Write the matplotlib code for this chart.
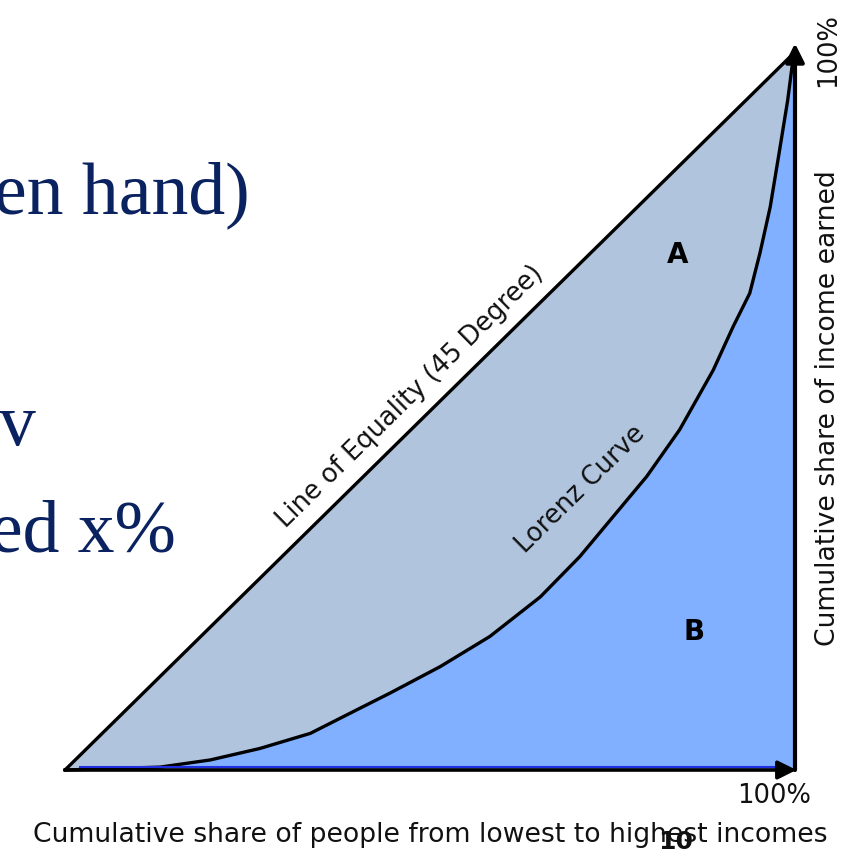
import matplotlib
matplotlib.use("Agg")
import matplotlib.pyplot as plt

# Lorenz curve (percent of people, percent of income)
people = [0, 13.0, 19.9, 26.7, 33.6, 40.4, 44.5, 51.4, 58.2, 65.1, 70.5, 75.1, 79.7,
          84.2, 88.8, 91.5, 93.8, 95.2, 96.6, 97.9, 99.0, 99.6, 100]
income = [0, 0.4, 1.4, 3.0, 5.1, 8.6, 10.7, 14.4, 18.6, 24.1, 29.7, 35.3, 40.9,
          47.4, 55.7, 61.7, 66.4, 72.0, 78.4, 86.4, 93.3, 98.0, 100]
equality = [0, 100]

W, H = 844, 850
fig = plt.figure(figsize=(W / 100, H / 100), dpi=100)
ax = fig.add_axes([0, 0, 1, 1])
ax.set_xlim(-65 / 730 * 100, 779 / 730 * 100)
ax.set_ylim(-80 / 718 * 100, 770 / 718 * 100)
ax.axis("off")

# areas A and B
ax.fill_between(people, people, income, color="#b0c4de", lw=0)
ax.fill_between(people, income, 0, color="#80b0ff", lw=0)

ax.plot(equality, equality, color="black", lw=2.4, solid_capstyle="round")
ax.plot(people, income, color="black", lw=2.4, solid_joinstyle="round")

# axes with arrows
ax.plot([2, 99], [0.35, 0.35], color="#2030e0", lw=1.5)
ax.annotate("", xy=(100.2, 0), xytext=(0, 0),
            arrowprops=dict(arrowstyle="-|>", color="black", lw=2.6, mutation_scale=28,
                            shrinkA=0, shrinkB=0))
ax.annotate("", xy=(100, 101.2), xytext=(100, 0),
            arrowprops=dict(arrowstyle="-|>", color="black", lw=3.0, mutation_scale=28,
                            shrinkA=0, shrinkB=0))


def px(x, y):
    return x / W, 1 - y / H


sans = "DejaVu Sans"
ink = "#111111"
fig.text(*px(410, 397), "Line of Equality (45 Degree)", rotation=44.5, fontsize=18.5,
         family=sans, color=ink, ha="center", va="center", rotation_mode="anchor")
fig.text(*px(581, 489), "Lorenz Curve", rotation=44.5, fontsize=18.5,
         family=sans, color=ink, ha="center", va="center", rotation_mode="anchor")
fig.text(*px(678, 255), "A", fontsize=20, fontweight="bold", family=sans, ha="center", va="center")
fig.text(*px(694, 632), "B", fontsize=20, fontweight="bold", family=sans, ha="center", va="center")
fig.text(*px(774, 796), "100%", fontsize=18.5, family=sans, color=ink, ha="center", va="center")
fig.text(*px(430, 835), "Cumulative share of people from lowest to highest incomes",
         fontsize=19.2, family=sans, color=ink, ha="center", va="center")
fig.text(*px(828, 408), "Cumulative share of income earned", rotation=90, fontsize=19.2,
         family=sans, color=ink, ha="center", va="center")
fig.text(*px(828, 50), "100%", rotation=90, fontsize=18.5, family=sans, color=ink,
         ha="center", va="center")
fig.text(*px(676, 830), "10", fontsize=18, fontweight="bold", family=sans, color=ink,
         ha="center", va="top")

# slide text behind the chart
navy = "#0a2260"
serif = "Liberation Serif"
fig.text(*px(250, 213), "en hand)", fontsize=53, family=serif, color=navy, ha="right", va="baseline")
fig.text(*px(36, 445), "v", fontsize=53, family=serif, color=navy, ha="right", va="baseline")
fig.text(*px(176, 552), "ed x%", fontsize=53, family=serif, color=navy, ha="right", va="baseline")

fig.savefig("out.png", dpi=100)
